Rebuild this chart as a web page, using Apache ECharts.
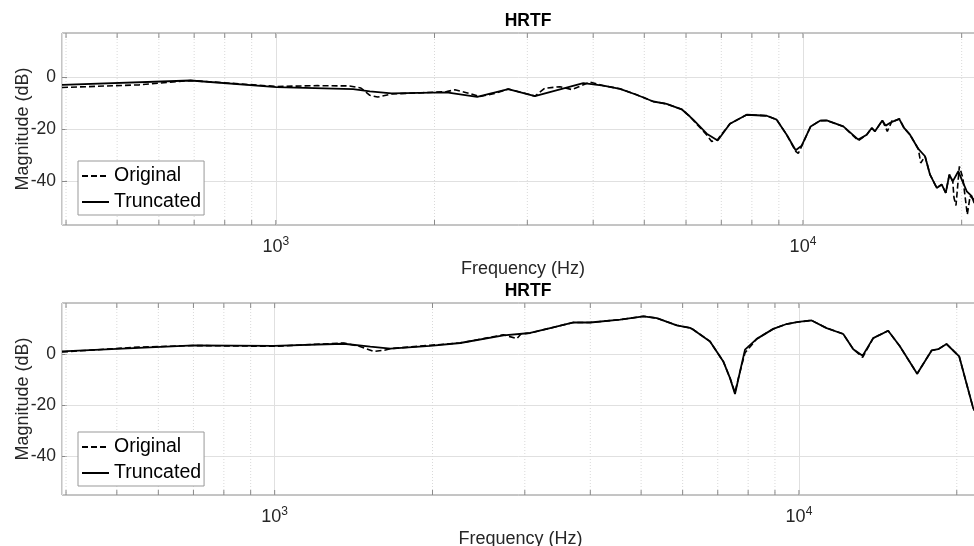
<!DOCTYPE html>
<html>
<head>
  <meta charset="utf-8">
  <title>HRTF</title>
  <script src="https://cdn.jsdelivr.net/npm/echarts@6.0.0/dist/echarts.min.js"></script>
  <style>
    html, body { margin: 0; padding: 0; background: #fff; }
    #chart { width: 974px; height: 546px; }
  </style>
</head>
<body>
<div id="chart"></div>
<script>
  // 上图 (top panel)
  let topTruncFreq = [393, 689, 1003, 1402, 1508, 1658, 2108, 2410, 2760, 3101, 3830, 4182, 4496, 4834, 5200, 5512, 5886, 6103, 6191, 6568, 6890, 7269, 7820, 8534, 8915, 9313, 9687, 9944, 10342, 10773, 11092, 11925, 12735, 13210, 13502, 13697, 14142, 14353, 14670, 14950, 15233, 15550, 15960, 16552, 17043, 17419, 17937, 18334, 18658, 18953, 19238, 19713, 20010, 20450, 20900, 21110, 22050];
  let topTruncMag = [-3.0, -1.3, -3.85, -4.6, -5.5, -6.3, -5.9, -7.6, -4.6, -7.3, -2.3, -3.3, -4.5, -6.8, -9.4, -10.3, -12.4, -15.2, -16.4, -21.8, -24.4, -18.0, -14.5, -14.9, -16.4, -22.2, -28.2, -26.4, -19.0, -16.8, -16.7, -19.0, -24.1, -22.2, -19.6, -20.9, -16.7, -18.7, -17.5, -16.8, -16.2, -19.6, -22.2, -27.7, -30.5, -37.6, -42.7, -41.4, -44.6, -37.6, -40.2, -36.3, -39.5, -44.0, -45.9, -48.3, -52.0];
  let topOrigFreq = [393, 550, 689, 1003, 1200, 1380, 1450, 1508, 1560, 1658, 1900, 2108, 2186, 2300, 2438, 2600, 2760, 3101, 3238, 3458, 3645, 3943, 4182, 4496, 4834, 5200, 5512, 5886, 6103, 6191, 6568, 6711, 6890, 7269, 7820, 8534, 8915, 9313, 9687, 9797, 9944, 10342, 10773, 11092, 11925, 12735, 13210, 13502, 13697, 14142, 14454, 14790, 14950, 15233, 15550, 15960, 16552, 16725, 17043, 17419, 17937, 18334, 18658, 18953, 19238, 19340, 19510, 19800, 20100, 20500, 20750, 21110, 22050];
  let topOrigMag = [-4.0, -3.0, -1.3, -3.6, -3.3, -3.4, -4.2, -7.0, -7.7, -6.5, -6.0, -5.6, -4.9, -6.0, -7.5, -6.3, -4.6, -7.3, -4.3, -3.7, -4.8, -1.9, -3.3, -4.5, -6.8, -9.4, -10.3, -12.4, -15.2, -16.6, -22.3, -24.8, -24.0, -18.0, -14.5, -14.9, -16.4, -22.2, -28.6, -29.4, -26.6, -19.0, -16.8, -16.7, -19.0, -24.5, -22.2, -19.6, -20.9, -16.7, -20.9, -16.4, -16.8, -16.0, -19.6, -22.2, -27.7, -33.1, -30.5, -37.6, -42.7, -41.4, -44.6, -37.6, -40.2, -46.5, -49.5, -34.4, -38.8, -53.0, -45.9, -47.2, -50.0];

  // 下图 (bottom panel)
  let botTruncFreq = [393, 701, 996, 1354, 1522, 1662, 1980, 2259, 2732, 3072, 3354, 3714, 3998, 4560, 5051, 5357, 5847, 6198, 6289, 6767, 7173, 7388, 7551, 7720, 7891, 8309, 8933, 9475, 9970, 10573, 11292, 12146, 12693, 13227, 13855, 14797, 15577, 16806, 17907, 18434, 19118, 20210, 21490, 22050];
  let botTruncMag = [1.0, 3.4, 3.2, 4.0, 2.9, 2.1, 3.2, 4.3, 7.3, 8.2, 10.1, 12.3, 12.3, 13.4, 14.7, 14.0, 11.2, 10.2, 9.5, 4.9, -2.9, -9.4, -15.6, -6.8, 1.7, 5.9, 9.8, 11.7, 12.5, 13.1, 10.1, 7.8, 1.9, -0.7, 6.2, 9.1, 3.0, -7.7, 1.4, 1.9, 3.9, -0.9, -21.1, -25.0];
  let botOrigFreq = [393, 550, 701, 996, 1200, 1354, 1450, 1544, 1620, 1662, 1980, 2259, 2732, 2897, 2950, 3072, 3354, 3714, 3998, 4560, 5051, 5357, 5847, 6198, 6289, 6767, 7173, 7388, 7551, 7662, 7891, 8309, 8933, 9475, 9970, 10573, 11292, 12146, 12693, 13227, 13855, 14797, 15577, 16806, 17907, 18434, 19118, 20210, 21490, 22050];
  let botOrigMag = [0.8, 2.7, 3.3, 3.0, 3.8, 4.3, 3.0, 1.0, 1.5, 2.1, 3.4, 4.3, 7.5, 6.0, 7.8, 8.2, 10.1, 12.3, 12.3, 13.4, 14.7, 14.0, 11.2, 10.2, 9.5, 4.9, -2.9, -9.4, -15.0, -9.5, 0.5, 5.9, 9.8, 11.7, 12.5, 13.1, 10.1, 7.8, 1.9, -1.3, 6.2, 9.1, 3.0, -7.7, 1.4, 1.9, 3.9, -0.9, -21.1, -25.0];

  // 刻度 (ticks)
  let tickFreqs = [400, 500, 600, 700, 800, 900, 1000, 2000, 3000, 4000, 5000, 6000, 7000, 8000, 9000, 10000, 20000];
  let yTicks = [-40, -20, 0];
  let seriesNames = ['Original', 'Truncated'];

  function pairs(fs, ms) {
    let out = [];
    for (let i = 0; i < fs.length; i++) out.push([fs[i], ms[i]]);
    return out;
  }
  function isDecade(v) {
    let e = Math.log10(v);
    return Math.abs(e - Math.round(e)) < 1e-6;
  }

  let txt = '#262626';
  let grids = [
    { left: 62, right: -10, top: 33, height: 192, show: true, borderColor: '#8a8a8a', borderWidth: 1, outerBoundsMode: 'none', containLabel: false },
    { left: 62, right: -5, top: 303, height: 192, show: true, borderColor: '#8a8a8a', borderWidth: 1, outerBoundsMode: 'none', containLabel: false }
  ];
  let yRanges = [[-57, 17], [-55, 19.9]];

  let xAxes = [], yAxes = [];
  for (let g = 0; g < 2; g++) {
    xAxes.push({
      type: 'log', logBase: 10, gridIndex: g, min: 393, max: 22050,
      name: 'Frequency (Hz)', nameLocation: 'middle', nameGap: 35, nameMoveOverlap: false,
      nameTextStyle: { color: txt, fontSize: 18, fontFamily: 'Liberation Sans' },
      axisLine: { show: false },
      axisTick: { show: false },
      axisLabel: {
        margin: 11, color: txt, fontFamily: 'Liberation Sans',
        formatter: function (v) {
          if (!isDecade(v)) return '';
          return '{b|10}{s|' + Math.round(Math.log10(v)) + '}';
        },
        rich: {
          b: { fontSize: 18, color: txt, fontFamily: 'Liberation Sans', lineHeight: 22 },
          s: { fontSize: 12, color: txt, fontFamily: 'Liberation Sans', verticalAlign: 'top', lineHeight: 12 }
        }
      },
      splitLine: { show: true, lineStyle: { color: '#e0e0e0', width: 1 } }
    });
    yAxes.push({
      type: 'value', gridIndex: g, min: yRanges[g][0], max: yRanges[g][1],
      name: 'Magnitude (dB)', nameLocation: 'middle', nameGap: 30, nameMoveOverlap: false,
      nameTextStyle: { color: txt, fontSize: 18, fontFamily: 'Liberation Sans' },
      axisLine: { show: false },
      axisTick: { show: true, inside: true, length: 5, customValues: yTicks, lineStyle: { color: '#8a8a8a' } },
      axisLabel: { customValues: yTicks, color: txt, fontSize: 17.5, fontFamily: 'Liberation Sans', margin: 6 },
      splitLine: { show: true, lineStyle: { color: '#e0e0e0', width: 1 } }
    });
  }

  // 次刻度和虚线网格
  function tickRender(params, api) {
    let f = api.value(0);
    let x = api.coord([f, 0])[0];
    let cs = params.coordSys;
    let kids = [];
    if (!isDecade(f)) {
      kids.push({
        type: 'line', shape: { x1: x, y1: cs.y, x2: x, y2: cs.y + cs.height },
        style: { stroke: '#d9d9d9', lineWidth: 1, lineDash: [1, 2] }
      });
    }
    kids.push({ type: 'line', shape: { x1: x, y1: cs.y, x2: x, y2: cs.y + 5 }, style: { stroke: '#8a8a8a', lineWidth: 1 } });
    kids.push({ type: 'line', shape: { x1: x, y1: cs.y + cs.height, x2: x, y2: cs.y + cs.height - 5 }, style: { stroke: '#8a8a8a', lineWidth: 1 } });
    return { type: 'group', children: kids };
  }

  let tickData = tickFreqs.map(function (f) { return [f, 0]; });
  let series = [];
  let sets = [[topOrigFreq, topOrigMag, topTruncFreq, topTruncMag], [botOrigFreq, botOrigMag, botTruncFreq, botTruncMag]];
  for (let g = 0; g < 2; g++) {
    series.push({
      type: 'custom', xAxisIndex: g, yAxisIndex: g, silent: true, z: 1,
      renderItem: tickRender, data: tickData, encode: { x: 0, y: 1 }
    });
    series.push({
      name: seriesNames[0], type: 'line', xAxisIndex: g, yAxisIndex: g, symbol: 'none', z: 3,
      lineStyle: { color: '#000', width: 1.6, type: [6, 3] }, itemStyle: { color: '#000' },
      data: pairs(sets[g][0], sets[g][1])
    });
    series.push({
      name: seriesNames[1], type: 'line', xAxisIndex: g, yAxisIndex: g, symbol: 'none', z: 4,
      lineStyle: { color: '#000', width: 1.8 }, itemStyle: { color: '#000' },
      data: pairs(sets[g][2], sets[g][3])
    });
  }

  let legendBase = {
    orient: 'vertical', left: 78, data: seriesNames,
    itemWidth: 27, itemHeight: 19, itemGap: 6, itemTextGap: 3, padding: [5, 3, 3, 3],
    backgroundColor: '#fff', borderColor: '#999', borderWidth: 1, borderRadius: 0,
    itemStyle: { opacity: 0 },
    textStyle: { color: '#000', fontSize: 19.5, fontFamily: 'Liberation Sans' },
    selectedMode: false
  };

  let myChart = echarts.init(document.getElementById('chart'));
  myChart.setOption({
    animation: false,
    backgroundColor: '#fff',
    title: [
      { text: 'HRTF', left: 523, top: 7, textAlign: 'center', textStyle: { fontSize: 17.5, fontWeight: 'bold', color: '#000', fontFamily: 'Liberation Sans' } },
      { text: 'HRTF', left: 523, top: 277, textAlign: 'center', textStyle: { fontSize: 17.5, fontWeight: 'bold', color: '#000', fontFamily: 'Liberation Sans' } }
    ],
    legend: [
      Object.assign({}, legendBase, { top: 161 }),
      Object.assign({}, legendBase, { top: 432 })
    ],
    grid: grids,
    xAxis: xAxes,
    yAxis: yAxes,
    series: series
  });
</script>
</body>
</html>
